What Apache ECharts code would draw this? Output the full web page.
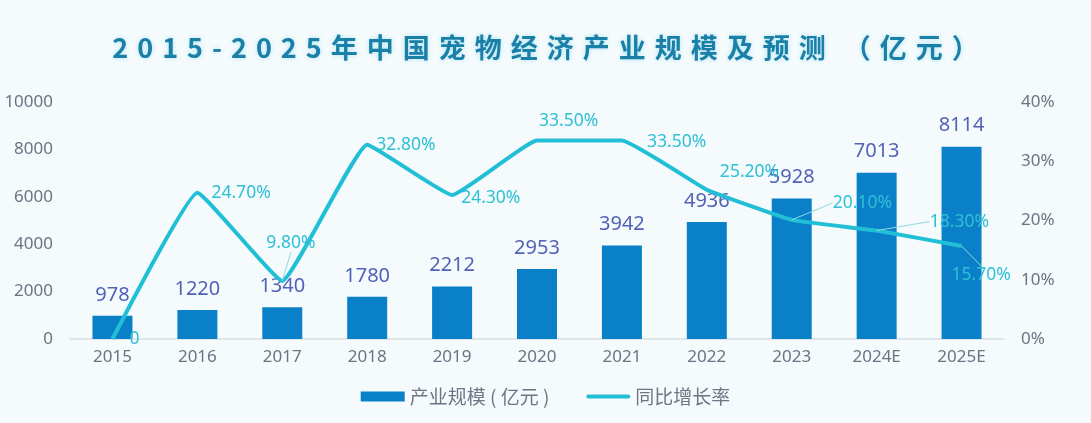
<!DOCTYPE html>
<html>
<head>
<meta charset="utf-8">
<title>2015-2025年中国宠物经济产业规模及预测</title>
<script src="https://cdn.jsdelivr.net/npm/echarts@6/dist/echarts.min.js"></script>
<style>
  html, body { margin: 0; padding: 0; background: #f5fbfc; }
  #chart { width: 1091px; height: 423px; }
</style>
</head>
<body>
<div id="chart"></div>
<script>
var years = ['2015', '2016', '2017', '2018', '2019', '2020', '2021', '2022', '2023', '2024E', '2025E'];
var scale = [978, 1220, 1340, 1780, 2212, 2953, 3942, 4936, 5928, 7013, 8114];
var growth = [0, 24.7, 9.8, 32.8, 24.3, 33.5, 33.5, 25.2, 20.1, 18.3, 15.7];
var leftTicks = [0, 10000, 2000];
var rightTicks = [0, 40, 10];

// where each growth label sits relative to its point, and whether it gets a guide line
var growthLabelMove = [
    {dx: 11, dy: 0, line: false},
    {dx: 8, dy: 0, line: false},
    {dx: -22, dy: -38, line: true},
    {dx: 3, dy: 0, line: false},
    {dx: 3, dy: 3, line: false},
    {dx: -4, dy: -19, line: false},
    {dx: 19, dy: 2, line: false},
    {dx: 7, dy: -18, line: false},
    {dx: 35, dy: -17, line: true},
    {dx: 47, dy: -9, line: true},
    {dx: -16, dy: 29, line: true}
];

var chart = echarts.init(document.getElementById('chart'), null, {renderer: 'canvas'});

var sp = '\u2004';
var titleText = '2015-2025年中国宠物经济产业规模及预测'.split('').join(sp) + sp + sp + '（' + sp + '亿' + sp + '元' + sp + '）';

var option = {
    backgroundColor: '#f5fbfc',
    title: {
        text: titleText,
        left: 'center',
        top: 29,
        textStyle: {
            fontFamily: 'Noto Sans CJK SC',
            fontSize: 27,
            fontWeight: 'bold',
            color: '#1a80a8',
            textShadowColor: 'rgba(90, 200, 235, 0.45)',
            textShadowBlur: 5
        }
    },
    grid: {
        left: 70,
        right: 87,
        top: 102,
        bottom: 84
    },
    legend: {
        bottom: 12,
        left: 'center',
        itemWidth: 44,
        itemHeight: 10,
        itemGap: 37,
        textStyle: {
            fontFamily: 'Noto Sans CJK SC',
            fontSize: 19,
            color: '#707585'
        },
        data: [
            {name: '产业规模 ( 亿元 )', icon: 'rect'},
            {name: '同比增长率', icon: 'path://M2,0 L42,0 A2,2 0 0 1 42,4 L2,4 A2,2 0 0 1 2,0 Z'}
        ]
    },
    xAxis: {
        type: 'category',
        data: years,
        axisTick: {show: false},
        axisLine: {lineStyle: {color: '#d9dee4', width: 1.5}},
        axisLabel: {
            margin: 10,
            fontFamily: 'Noto Sans',
            fontSize: 17,
            color: '#6e7282'
        }
    },
    yAxis: [
        {
            type: 'value',
            min: leftTicks[0],
            max: leftTicks[1],
            interval: leftTicks[2],
            splitLine: {show: false},
            axisLine: {show: false},
            axisTick: {show: false},
            axisLabel: {
                margin: 17,
                formatter: function(v) { return String(v); },
                fontFamily: 'Noto Sans',
                fontSize: 17,
                color: '#6e7282'
            }
        },
        {
            type: 'value',
            min: rightTicks[0],
            max: rightTicks[1],
            interval: rightTicks[2],
            splitLine: {show: false},
            axisLine: {show: false},
            axisTick: {show: false},
            axisLabel: {
                margin: 17,
                formatter: '{value}%',
                fontFamily: 'Noto Sans',
                fontSize: 17,
                color: '#6e7282'
            }
        }
    ],
    series: [
        {
            name: '产业规模 ( 亿元 )',
            type: 'bar',
            data: scale,
            barWidth: 40,
            itemStyle: {color: '#0a80c8'},
            label: {
                show: true,
                position: 'top',
                distance: 11,
                fontFamily: 'Noto Sans',
                fontSize: 20,
                color: '#5262b6'
            },
            z: 2
        },
        {
            name: '同比增长率',
            type: 'line',
            yAxisIndex: 1,
            data: growth.map(function(v, i) {
                return {
                    value: v,
                    labelLine: {show: growthLabelMove[i].line}
                };
            }),
            smooth: 0.1,
            symbol: 'circle',
            symbolSize: 0.1,
            showAllSymbol: true,
            lineStyle: {color: '#21bfd6', width: 4},
            itemStyle: {color: '#21bfd6'},
            label: {
                show: true,
                position: 'right',
                distance: 6,
                formatter: function(p) {
                    return p.value === 0 ? '0' : p.value.toFixed(2) + '%';
                },
                fontFamily: 'Noto Sans',
                fontSize: 17.5,
                color: '#2fc0d6'
            },
            labelLine: {
                show: false,
                lineStyle: {color: '#8fd7e4', width: 1}
            },
            labelLayout: function(params) {
                var m = growthLabelMove[params.dataIndex];
                return {dx: m.dx, dy: m.dy};
            },
            z: 3
        }
    ]
};

chart.setOption(option);
</script>
</body>
</html>
